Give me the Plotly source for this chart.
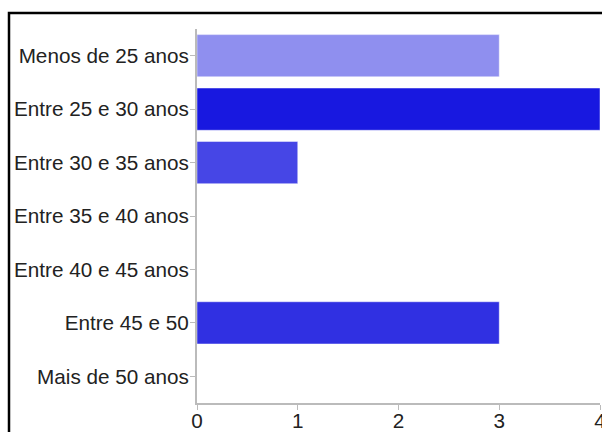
import plotly.graph_objects as go

categories = ["Menos de 25 anos", "Entre 25 e 30 anos", "Entre 30 e 35 anos",
              "Entre 35 e 40 anos", "Entre 40 e 45 anos", "Entre 45 e 50",
              "Mais de 50 anos"]
values = [3, 4, 1, 0, 0, 3, 0]
colors = ["#8f8fef", "#1818e0", "#4646e6", "#3a3ae4", "#3a3ae4", "#3030e2", "#3a3ae4"]
x_ticks = [0, 1, 2, 3, 4]

W, H = 602, 432
L, R, T, B = 197, 2, 29, 29
pw, ph = W - L - R, H - T - B

fig = go.Figure(go.Bar(
    x=values, y=categories, orientation="h",
    marker=dict(color=colors, line=dict(color="rgba(255,255,255,0.45)", width=1)),
))

fig.update_layout(
    width=W, height=H,
    margin=dict(l=L, r=R, t=T, b=B, pad=0, autoexpand=False),
    plot_bgcolor="white", paper_bgcolor="white",
    bargap=0.21, showlegend=False,
    font=dict(family="Liberation Sans, Arial, sans-serif", size=20.7, color="#222222"),
)
fig.update_xaxes(range=[0, 4], tickvals=x_ticks, showgrid=False, zeroline=False,
                 showline=True, linecolor="#bbbbbb", linewidth=2,
                 ticks="outside", ticklen=5, tickcolor="#bbbbbb", tickwidth=1,
                 automargin=False, ticklabeloverflow="allow",
                 ticklabelstandoff=-7,
                 tickfont=dict(size=20.7, color="#222222"))
fig.update_yaxes(autorange="reversed", showgrid=False, zeroline=False,
                 showline=True, linecolor="#bbbbbb", linewidth=2,
                 ticks="outside", ticklen=5, tickcolor="#bbbbbb", tickwidth=1,
                 ticklabelstandoff=-3, automargin=False,
                 tickfont=dict(size=20.7, color="#222222"))

# outer frame (black border of the original, cropped at right/bottom)
def px(xp):
    return (xp - L) / pw

def py(yp):
    return (H - B - yp) / ph

fig.add_shape(type="path", xref="paper", yref="paper",
              path=f"M {px(9)} {py(440)} L {px(9)} {py(13)} L {px(610)} {py(13)}",
              line=dict(color="black", width=2.5))

fig.write_html("out.html")
